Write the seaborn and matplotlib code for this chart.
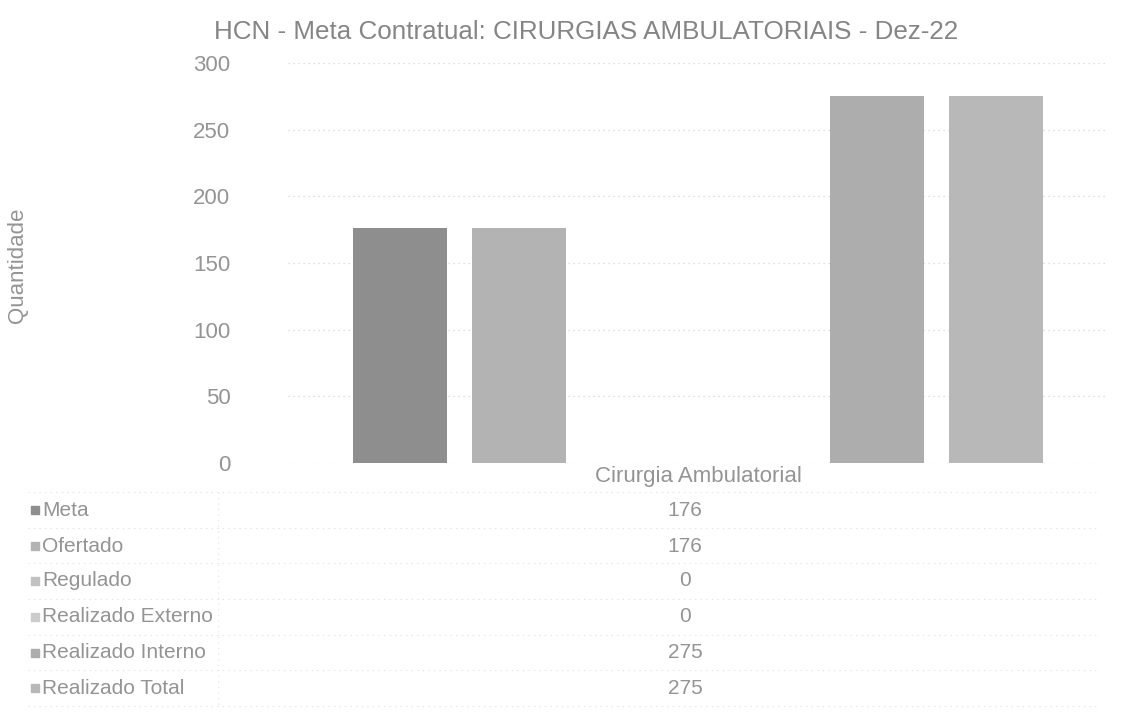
import pandas as pd
import matplotlib.pyplot as plt
import matplotlib.patches as mpatches
import matplotlib.lines as mlines
import seaborn as sns

# Dados da meta contratual
categorias = ['Cirurgia Ambulatorial']
series = ['Meta', 'Ofertado', 'Regulado', 'Realizado Externo', 'Realizado Interno', 'Realizado Total']
valores = [176, 176, 0, 0, 275, 275]
cores = ['#8e8e8e', '#b3b3b3', '#c2c2c2', '#cccccc', '#adadad', '#b8b8b8']
yticks = [0, 50, 100, 150, 200, 250, 300]

df = pd.DataFrame({
    'Categoria': categorias * len(series),
    'Série': series,
    'Quantidade': valores,
})

sns.set_style('white')
plt.rcParams['font.family'] = ['Liberation Sans', 'DejaVu Sans']
cinza_texto = '#949494'

W, H = 1136, 727
fig = plt.figure(figsize=(W / 100, H / 100), dpi=100)
x0, x1, y0, y1 = 288, 1108, 463, 63
ax = fig.add_axes([x0 / W, 1 - y0 / H, (x1 - x0) / W, (y0 - y1) / H])

sns.barplot(data=df, x='Categoria', y='Quantidade', hue='Série', hue_order=series,
            palette=cores, width=0.871, gap=0.21, legend=False, ax=ax,
            saturation=1, edgecolor='none')

ax.set_xlim(-0.5, 0.5)
ax.set_ylim(0, 300)
ax.set_yticks(yticks)
ax.grid(axis='y', color='#d4d4d4', linestyle=(0, (1, 3)), linewidth=0.9)
ax.set_axisbelow(True)
for s in ax.spines.values():
    s.set_visible(False)
ax.tick_params(axis='y', length=0, pad=41.5, labelsize=16, labelcolor=cinza_texto)
ax.tick_params(axis='x', length=0, pad=2, labelsize=16, labelcolor=cinza_texto)
ax.set_xlabel('')
ax.set_ylabel('')

# rótulo do eixo y
fig.text(18 / W, 1 - 265 / H, 'Quantidade', rotation=90, ha='center', va='center',
         fontsize=16, color=cinza_texto)

fig.text(586 / W, 1 - 32 / H, 'HCN - Meta Contratual: CIRURGIAS AMBULATORIAIS - Dez-22',
         ha='center', va='center', fontsize=18.7, color='#858585')

# Tabela de dados abaixo do gráfico
linhas_y = [510, 546, 581, 617, 653, 688]
for nome, valor, cor, yy in zip(series, valores, cores, linhas_y):
    fig.patches.append(mpatches.Rectangle((31 / W, 1 - (yy + 4) / H), 8 / W, 8 / H,
                                          transform=fig.transFigure, color=cor))
    fig.text(42 / W, 1 - yy / H, nome, ha='left', va='center', fontsize=15, color=cinza_texto)
    fig.text(685 / W, 1 - yy / H, str(valor), ha='center', va='center', fontsize=15, color=cinza_texto)

for yy in [492, 528, 563, 599, 635, 670, 706]:
    fig.add_artist(mlines.Line2D([28 / W, 1100 / W], [1 - yy / H, 1 - yy / H],
                                 color='#dddddd', linestyle=(0, (1, 4)), linewidth=0.8))
fig.add_artist(mlines.Line2D([218 / W, 218 / W], [1 - 492 / H, 1 - 706 / H],
                             color='#e2e2e2', linestyle=(0, (1, 4)), linewidth=0.8))

fig.savefig('out.png', dpi=100)
